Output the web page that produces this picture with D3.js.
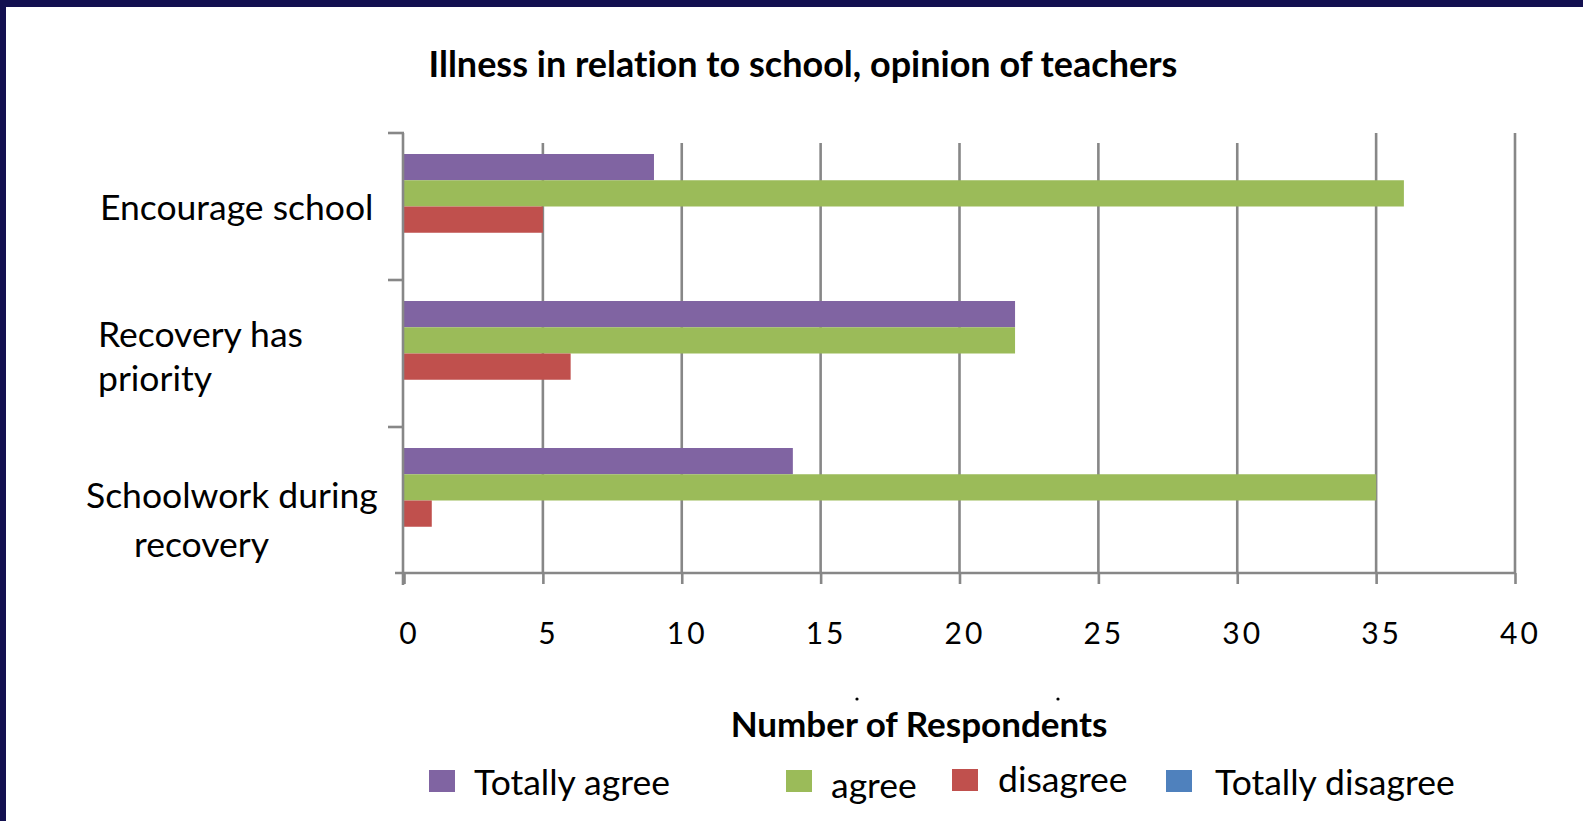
<!DOCTYPE html>
<html>
<head>
<meta charset="utf-8">
<script src="https://cdn.jsdelivr.net/npm/d3@7"></script>
<style>
  body { margin: 0; background: #fff; }
  svg { display: block; }
  text { font-family: Lato, "Open Sans", sans-serif; fill: #000; font-variant-ligatures: none; }
</style>
</head>
<body>
<div id="graph"></div>
<script>
// values
const categories = ["Encourage school", "Recovery has priority", "Schoolwork during recovery"];
const categoryLines = [["Encourage school"], ["Recovery has", "priority"], ["Schoolwork during", "recovery"]];
const seriesNames = ["Totally agree", "agree", "disagree", "Totally disagree"];
const totallyAgree = [9, 22, 14];
const agree = [36, 22, 35];
const disagree = [5, 6, 1];
const totallyDisagree = [0, 0, 0];
const xTicks = [0, 5, 10, 15, 20, 25, 30, 35, 40];
const colors = ["#8064A2", "#9BBB59", "#C0504D", "#4F81BD"];

let width = 1583;
let height = 821;
let plotLeft = 404, plotRight = 1515, plotTop = 133, plotBottom = 574;
let axisColor = "#878787";

const seriesValues = [totallyAgree, agree, disagree, totallyDisagree];

let svg = d3.select("#graph")
    .append("svg")
    .attr("width", width)
    .attr("height", height);

// navy frame on top and left
svg.append("rect").attr("x", 0).attr("y", 0).attr("width", width).attr("height", 7).attr("fill", "#131050");
svg.append("rect").attr("x", 0).attr("y", 0).attr("width", 6).attr("height", height).attr("fill", "#131050");

svg.append("text")
    .attr("x", 803)
    .attr("y", 77)
    .attr("text-anchor", "middle")
    .attr("font-size", "36px")
    .attr("font-weight", "bold")
    .text("Illness in relation to school, opinion of teachers");

let xScale = d3.scaleLinear().domain([0, 40]).range([plotLeft, plotRight]);
let yScale = d3.scaleBand().domain(categories).range([plotTop, plotBottom]).padding(0);
let ySub = d3.scaleBand().domain(seriesNames).range([0, yScale.bandwidth()]).paddingInner(0).paddingOuter(0.8);

// gridlines
svg.append("g")
    .selectAll("line")
    .data(xTicks.filter(d => d > 0))
    .enter().append("line")
    .attr("x1", d => xScale(d))
    .attr("x2", d => xScale(d))
    .attr("y1", d => d >= 35 ? plotTop : plotTop + 10)
    .attr("y2", plotBottom - 1)
    .attr("stroke", axisColor)
    .attr("stroke-width", 2.6);

// bars
seriesNames.forEach(function (name, s) {
    svg.append("g")
        .selectAll("rect")
        .data(categories)
        .enter().append("rect")
        .attr("x", xScale(0))
        .attr("y", c => yScale(c) + ySub(name))
        .attr("width", (c, i) => xScale(seriesValues[s][i]) - xScale(0))
        .attr("height", ySub.bandwidth())
        .attr("fill", colors[s]);
});

// x axis
let xg = svg.append("g")
    .attr("transform", "translate(0," + (plotBottom - 1) + ")")
    .call(d3.axisBottom(xScale).tickValues(xTicks).tickSize(11).tickSizeOuter(0).tickPadding(39));
xg.select(".domain").remove();
xg.selectAll(".tick line").attr("stroke", axisColor).attr("stroke-width", 2.6);
xg.selectAll(".tick text")
    .attr("font-family", "'DejaVu Sans', sans-serif")
    .attr("font-size", "30px")
    .attr("letter-spacing", "3px")
    .attr("dx", "5px")
    .attr("fill", "#000");
xg.append("line")
    .attr("x1", 395).attr("x2", plotRight)
    .attr("y1", 0).attr("y2", 0)
    .attr("stroke", axisColor).attr("stroke-width", 2.6);

// y axis
svg.append("line")
    .attr("x1", plotLeft - 1).attr("x2", plotLeft - 1)
    .attr("y1", plotTop).attr("y2", plotBottom + 11)
    .attr("stroke", axisColor).attr("stroke-width", 2.6);
svg.append("g")
    .selectAll("line")
    .data(categories)
    .enter().append("line")
    .attr("x1", plotLeft - 16).attr("x2", plotLeft)
    .attr("y1", c => yScale(c))
    .attr("y2", c => yScale(c))
    .attr("stroke", axisColor).attr("stroke-width", 2.6);

// category labels (wrapped as in the picture)
let labelX = [[100], [98, 98], [86, 134]];
let labelY = [[220], [347, 391], [508, 557]];
categoryLines.forEach(function (lines, i) {
    lines.forEach(function (line, j) {
        svg.append("text")
            .attr("x", labelX[i][j])
            .attr("y", labelY[i][j])
            .attr("font-size", "35.5px")
            .text(line);
    });
});

svg.append("text")
    .attr("x", 919)
    .attr("y", 737)
    .attr("text-anchor", "middle")
    .attr("font-size", "35px")
    .attr("font-weight", "bold")
    .text("Number of Respondents");

svg.selectAll(".dot")
    .data([857, 1058])
    .enter().append("circle")
    .attr("cx", d => d).attr("cy", 699).attr("r", 1.6).attr("fill", "#000");

// legend
let legendBox = [429, 786, 952, 1166];
let legendText = [474, 831, 998, 1215];
let legendBase = [795, 798, 792, 795];
seriesNames.forEach(function (name, i) {
    svg.append("rect")
        .attr("x", legendBox[i])
        .attr("y", 770 + (i === 2 ? -1 : 0))
        .attr("width", 26)
        .attr("height", 22)
        .attr("fill", colors[i]);
    svg.append("text")
        .attr("x", legendText[i])
        .attr("y", legendBase[i])
        .attr("font-size", "35.5px")
        .text(name);
});
</script>
</body>
</html>
